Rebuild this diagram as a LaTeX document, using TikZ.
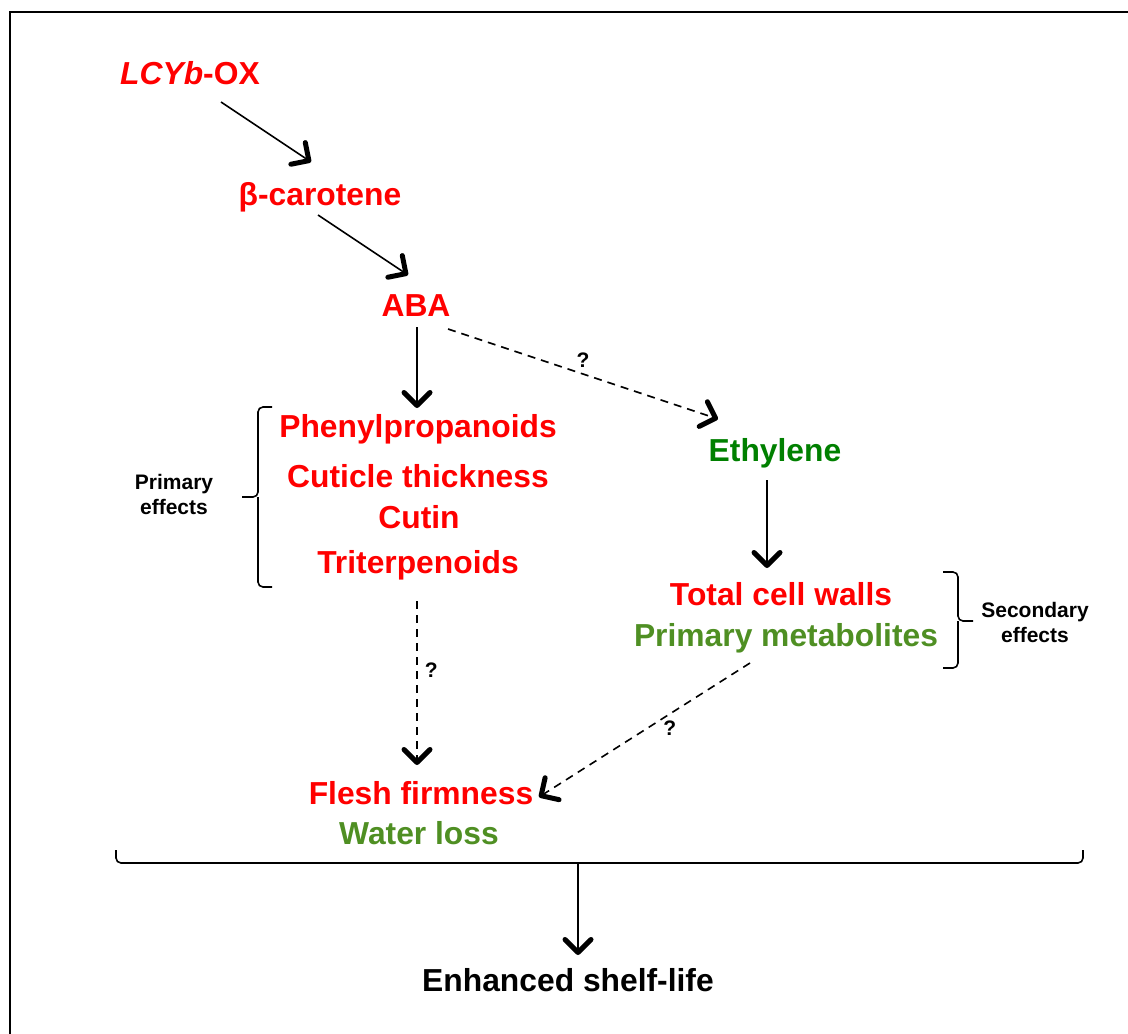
\documentclass[tikz,border=0pt]{standalone}
\usepackage{fontspec}
\setmainfont{Liberation Sans}
\usetikzlibrary{arrows.meta}
\definecolor{tred}{RGB}{255,0,0}
\definecolor{tgreen}{RGB}{0,128,0}
\definecolor{olive}{RGB}{79,143,35}
\tikzset{
  big/.style={font=\fontsize{31.8}{36}\selectfont\bfseries, anchor=base, inner sep=0pt},
  small/.style={font=\fontsize{21}{25}\selectfont\bfseries, align=center, inner sep=0pt},
  qmark/.style={font=\fontsize{21}{25}\selectfont\bfseries, inner sep=0pt},
  arr/.style={line width=1.6pt, -{Straight Barb[length=13pt,width=26pt,line width=5pt,round]}},
  darr/.style={arr, dash pattern=on 8pt off 6pt},
  bracket/.style={line width=1.6pt, rounded corners=5pt},
}
\begin{document}
\begin{tikzpicture}[x=1pt,y=-1pt]
\useasboundingbox (0,0) rectangle (1128,1034);
% frame
\draw[line width=2.5pt] (10,1040) -- (10,12) -- (1140,12);

% nodes
\node[big, text=tred] (lcyb) at (190,84) {\textit{LCYb}-OX};
\node[big, text=tred] (beta) at (320,205) {β-carotene};
\node[big, text=tred] (aba) at (416,316) {ABA};
\node[big, text=tred] (phen) at (418,437) {Phenylpropanoids};
\node[big, text=tred] (cut) at (418,487) {Cuticle thickness};
\node[big, text=tred] (cutin) at (419,528) {Cutin};
\node[big, text=tred] (trit) at (418,573) {Triterpenoids};
\node[big, text=tgreen] (eth) at (775,461) {Ethylene};
\node[big, text=tred] (tcw) at (781,605) {Total cell walls};
\node[big, text=olive] (pm) at (786,646) {Primary metabolites};
\node[big, text=tred] (flesh) at (421,804) {Flesh firmness};
\node[big, text=olive] (water) at (419,844) {Water loss};
\node[big, text=black] (shelf) at (568,991) {Enhanced shelf-life};

\node[small] (prim) at (174,494) {Primary\\effects};
\node[small] (sec) at (1035,622) {Secondary\\effects};

% braces
\draw[bracket] (272,407) -- (258,407) -- (258,497) -- (242,497);
\draw[bracket] (258,497) -- (258,587) -- (272,587);
\draw[bracket] (943,572) -- (958,572) -- (958,621) -- (973,621);
\draw[bracket] (958,621) -- (958,668) -- (943,668);
\draw[bracket] (116,850) -- (116,863) -- (1083,863) -- (1083,850);
\coordinate (bjoin) at (578,863);

% arrows
\draw[arr] ([shift={(31,18)}]lcyb.base) -- ([shift={(-9,-43)}]beta.base);
\draw[arr] ([shift={(-2,10)}]beta.base) -- ([shift={(-8,-41)}]aba.base);
\draw[arr] ([shift={(1,11)}]aba.base) -- ([shift={(-1,-29)}]phen.base);
\draw[darr] ([shift={(32,13)}]aba.base) -- node[qmark, pos=0.5, above=6pt] (q1) {?} ([shift={(-57,-42)}]eth.base);
\draw[arr] ([shift={(-8,19)}]eth.base) -- ([shift={(-14,-37)}]tcw.base);
\draw[darr] ([shift={(-1,28)}]trit.base) -- node[qmark, pos=0.42, right=7pt] (q2) {?} ([shift={(-4,-39)}]flesh.base);
\draw[darr] ([shift={(-36,17)}]pm.base) -- node[qmark, pos=0.38, below=6pt] (q3) {?} ([shift={(118,-7)}]flesh.base);
\draw[arr] (bjoin) -- ([shift={(10,-36)}]shelf.base);
\end{tikzpicture}
\end{document}
